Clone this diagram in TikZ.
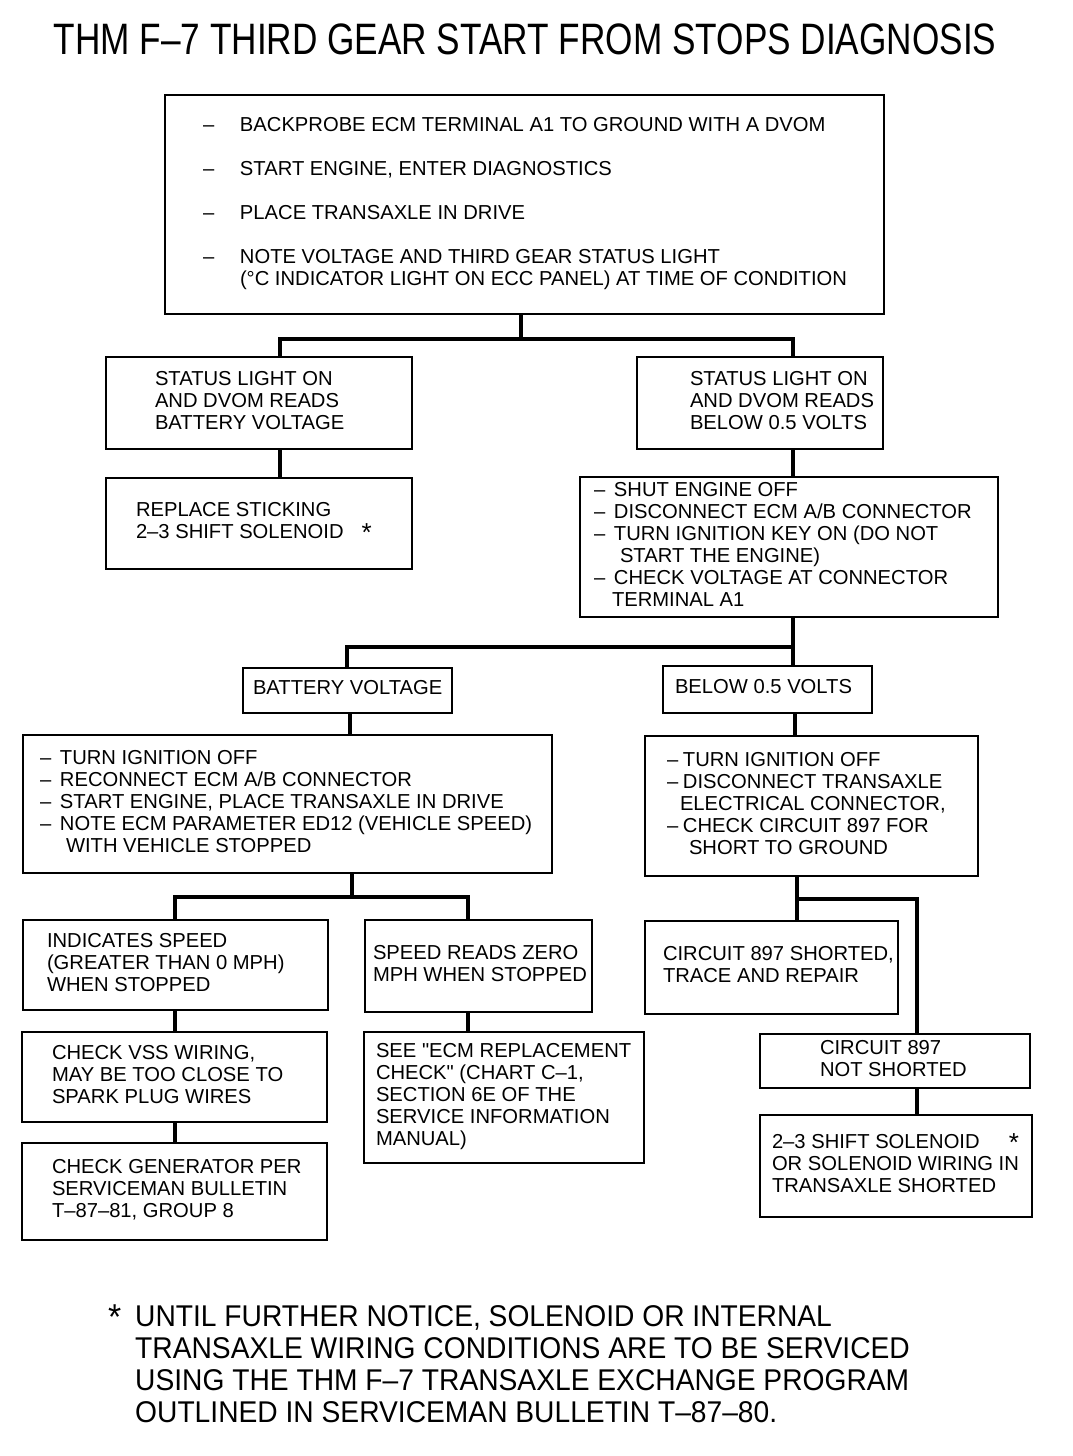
\documentclass[tikz,border=0pt]{standalone}
\usepackage{fontspec}
\setmainfont{Liberation Sans}[Ligatures=TeXOff]
\newfontfamily\titlefont{Liberation Sans}[FakeStretch=0.8]
\newfontfamily\notefont{Liberation Sans}[FakeStretch=0.94]
\usepackage{tikz}
\usetikzlibrary{positioning}

\newcommand{\itemdash}{\makebox[37pt][l]{–}}
\newcommand{\shortdash}{\makebox[20pt][l]{–}}
\newcommand{\starmark}{\smash{\raisebox{-3pt}{\fontsize{26}{26}\selectfont *}}}
\newcommand{\notestar}{\raisebox{-3pt}{\fontsize{36}{36}\selectfont *}}
\newcommand{\boxlines}[2]{\makebox[#1][l]{\begin{tabular}{@{}l@{}}#2\end{tabular}}}

\begin{document}
\begin{tikzpicture}[x=1pt, y=-1pt,
    box/.style={draw, line width=2pt, inner ysep=0pt, font=\fontsize{20.2}{22}\selectfont},
    conn/.style={line width=4pt}]
    \fill[white] (0,0) rectangle (1072,1456);
    \useasboundingbox (0,0) rectangle (1072,1456);

    % Title
    \node[font=\titlefont\fontsize{44}{44}\selectfont, inner sep=0pt] (title) at (525,39)
        {THM F–7 THIRD GEAR START FROM STOPS DIAGNOSIS};

    % First check
    \node[box, inner xsep=38pt, minimum height=219pt] (start) at (524.5,204.5) {\boxlines{643pt}{%
        \itemdash BACKPROBE ECM TERMINAL A1 TO GROUND WITH A DVOM\\[22pt]
        \itemdash START ENGINE, ENTER DIAGNOSTICS\\[22pt]
        \itemdash PLACE TRANSAXLE IN DRIVE\\[22pt]
        \itemdash NOTE VOLTAGE AND THIRD GEAR STATUS LIGHT\\
        \hspace*{37pt}(°C INDICATOR LIGHT ON ECC PANEL) AT TIME OF CONDITION}};

    % Status light results
    \node[box, inner xsep=49pt, minimum height=92pt] (litbatt) at (259,403)
        {\boxlines{208pt}{STATUS LIGHT ON\\ AND DVOM READS\\ BATTERY VOLTAGE}};
    \node[box, inner xsep=53pt, minimum height=92pt] (litlow) at (760,403)
        {\boxlines{140pt}{STATUS LIGHT ON\\ AND DVOM READS\\ BELOW 0.5 VOLTS}};
    \node[box, inner xsep=30pt, minimum height=91pt] (replace) at (259,523.5)
        {\boxlines{246pt}{REPLACE STICKING\\ 2–3 SHIFT SOLENOID\hspace{18pt}\starmark}};
    \node[box, inner xsep=14pt, minimum height=140pt] (shut) at (789,547) {\boxlines{390pt}{%
        \shortdash SHUT ENGINE OFF\\
        \shortdash DISCONNECT ECM A/B CONNECTOR\\
        \shortdash TURN IGNITION KEY ON (DO NOT\\
        \hspace*{26pt}START THE ENGINE)\\
        \shortdash CHECK VOLTAGE AT CONNECTOR\\
        \hspace*{18pt}TERMINAL A1}};

    % Connector voltage
    \node[box, inner xsep=10pt, minimum height=45pt] (battv) at (347.5,690.5)
        {\boxlines{189pt}{BATTERY VOLTAGE}};
    \node[box, inner xsep=12pt, minimum height=47pt] (lowv) at (767.5,689.5)
        {\boxlines{185pt}{BELOW 0.5 VOLTS}};
    \node[box, inner xsep=17pt, minimum height=138pt] (turnoff) at (287.5,804) {\boxlines{495pt}{%
        \shortdash TURN IGNITION OFF\\
        \shortdash RECONNECT ECM A/B CONNECTOR\\
        \shortdash START ENGINE, PLACE TRANSAXLE IN DRIVE\\
        \shortdash NOTE ECM PARAMETER ED12 (VEHICLE SPEED)\\
        \hspace*{26pt}WITH VEHICLE STOPPED}};
    \node[box, inner xsep=22pt, minimum height=140pt] (disc) at (811.5,806) {\boxlines{289pt}{%
        \makebox[16pt][l]{–}TURN IGNITION OFF\\
        \makebox[16pt][l]{–}DISCONNECT TRANSAXLE\\
        \hspace*{13pt}ELECTRICAL CONNECTOR,\\
        \makebox[16pt][l]{–}CHECK CIRCUIT 897 FOR\\
        \hspace*{22pt}SHORT TO GROUND}};

    % Vehicle speed
    \node[box, inner xsep=24pt, minimum height=90pt] (speedyes) at (175.5,965)
        {\boxlines{257pt}{INDICATES SPEED\\ (GREATER THAN 0 MPH)\\ WHEN STOPPED}};
    \node[box, inner xsep=8pt, minimum height=92pt] (speedzero) at (478.5,966)
        {\boxlines{211pt}{SPEED READS ZERO\\ MPH WHEN STOPPED}};
    \node[box, inner xsep=30pt, minimum height=90pt] (vss) at (174.5,1077)
        {\boxlines{245pt}{CHECK VSS WIRING,\\ MAY BE TOO CLOSE TO\\ SPARK PLUG WIRES}};
    \node[box, inner xsep=12pt, minimum height=131pt] (ecmrep) at (504,1097.5)
        {\boxlines{256pt}{SEE "ECM REPLACEMENT\\ CHECK" (CHART C–1,\\ SECTION 6E OF THE\\ SERVICE INFORMATION\\ MANUAL)}};
    \node[box, inner xsep=30pt, minimum height=97pt] (gen) at (174.5,1191.5)
        {\boxlines{245pt}{CHECK GENERATOR PER\\ SERVICEMAN BULLETIN\\ T–87–81, GROUP 8}};

    % Circuit 897
    \node[box, inner xsep=18pt, minimum height=93pt] (shorted) at (771.5,967.5)
        {\boxlines{217pt}{CIRCUIT 897 SHORTED,\\ TRACE AND REPAIR}};
    \node[box, inner xsep=60pt, minimum height=54pt] (notshort) at (895,1061)
        {\boxlines{150pt}{CIRCUIT 897\\ NOT SHORTED}};
    \node[box, inner xsep=12pt, minimum height=102pt] (solenoid) at (896,1166)
        {\boxlines{248pt}{2–3 SHIFT SOLENOID\hfill\starmark\hspace{2pt}\\ OR SOLENOID WIRING IN\\ TRANSAXLE SHORTED}};

    % Connectors
    \draw[conn] (start.south -| 521,0) -- ++(0,26);
    \draw[conn] (litbatt.north -| 280,0) -- ++(0,-17) -| (litlow.north -| 793,0);
    \draw[conn] (litbatt.south -| 280,0) -- (replace.north -| 280,0);
    \draw[conn] (litlow.south -| 793,0) -- (shut.north -| 793,0);
    \draw[conn] (shut.south -| 793,0) -- (lowv.north -| 793,0);
    \draw[conn] (battv.north -| 347,0) -- ++(0,-20) -| (lowv.north -| 793,0);
    \draw[conn] (battv.south -| 350,0) -- (turnoff.north -| 350,0);
    \draw[conn] (lowv.south -| 795,0) -- (disc.north -| 795,0);
    \draw[conn] (turnoff.south -| 352,0) -- ++(0,25);
    \draw[conn] (speedyes.north -| 175,0) -- ++(0,-22) -| (speedzero.north -| 468,0);
    \draw[conn] (speedyes.south -| 175,0) -- (vss.north -| 175,0);
    \draw[conn] (vss.south -| 175,0) -- (gen.north -| 175,0);
    \draw[conn] (speedzero.south -| 468,0) -- (ecmrep.north -| 468,0);
    \draw[conn] (disc.south -| 797,0) -- (shorted.north -| 797,0);
    \draw[conn] (disc.south -| 797,0) -- ++(0,22) -| (notshort.north -| 917,0);
    \draw[conn] (notshort.south -| 917,0) -- (solenoid.north -| 917,0);

    % Footnote
    \node[font=\notefont\fontsize{30}{32}\selectfont, inner sep=0pt, anchor=west] (note) at (135,1368)
        {\begin{tabular}{@{}l@{}}
        \llap{\notestar\hspace{14pt}}UNTIL FURTHER NOTICE, SOLENOID OR INTERNAL\\
        TRANSAXLE WIRING CONDITIONS ARE TO BE SERVICED\\
        USING THE THM F–7 TRANSAXLE EXCHANGE PROGRAM\\
        OUTLINED IN SERVICEMAN BULLETIN T–87–80.
        \end{tabular}};
\end{tikzpicture}
\end{document}
